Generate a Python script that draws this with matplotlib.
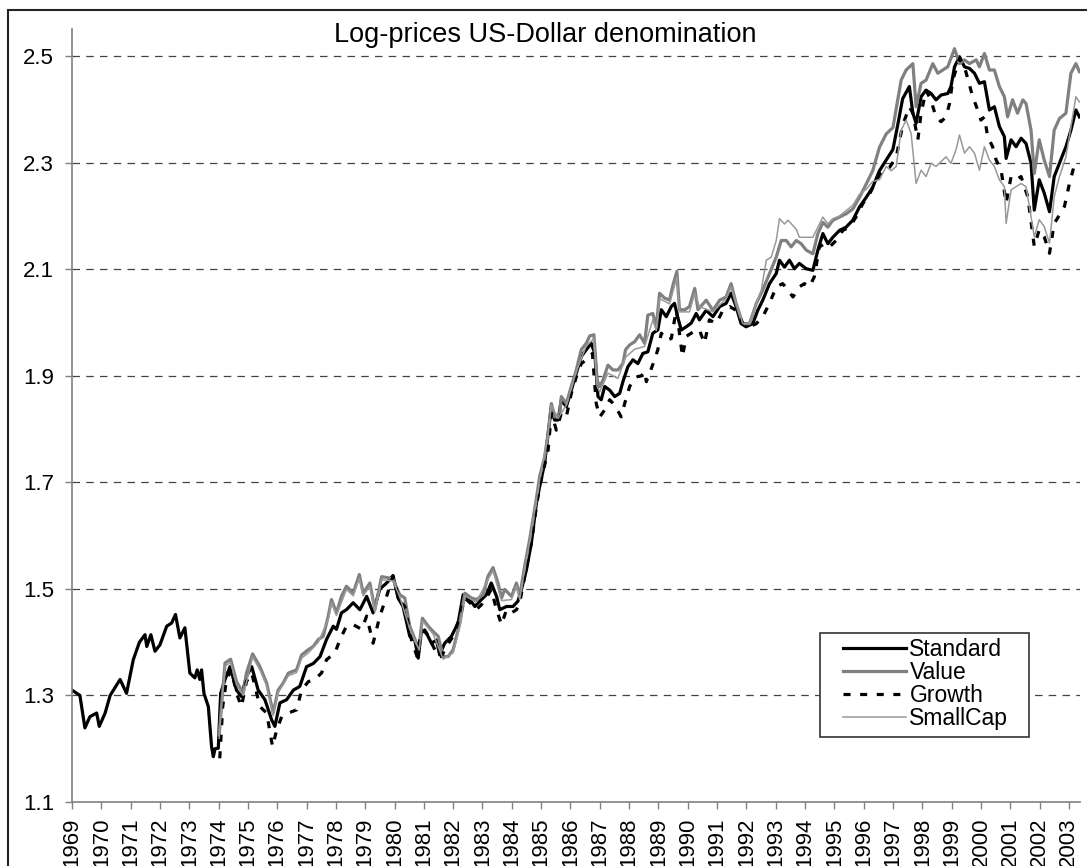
import matplotlib
matplotlib.use("Agg")
import matplotlib.pyplot as plt
from matplotlib.patches import Rectangle

plt.rcParams['font.family'] = ['Liberation Sans', 'DejaVu Sans']

# values (x = position on the year axis, y = log-price)
standard_t = [1969.0, 1969.27, 1969.44, 1969.61, 1969.84, 1969.93, 1970.13, 1970.3, 1970.64, 1970.86,
              1971.09, 1971.3, 1971.49, 1971.55, 1971.69, 1971.83, 1972.0, 1972.23, 1972.4, 1972.53,
              1972.68, 1972.85, 1973.02, 1973.19, 1973.27, 1973.36, 1973.42, 1973.5, 1973.65, 1973.76,
              1973.82, 1973.88, 1973.99, 1974.07, 1974.22, 1974.39, 1974.61, 1974.78, 1974.95, 1975.13,
              1975.35, 1975.58, 1975.81, 1975.92, 1976.09, 1976.32, 1976.55, 1976.77, 1977.0, 1977.23,
              1977.46, 1977.68, 1977.91, 1978.02, 1978.19, 1978.36, 1978.59, 1978.82, 1979.05, 1979.27,
              1979.5, 1979.73, 1979.95, 1980.12, 1980.29, 1980.52, 1980.69, 1980.81, 1980.92, 1981.09,
              1981.26, 1981.43, 1981.54, 1981.71, 1981.94, 1982.17, 1982.34, 1982.57, 1982.74, 1982.91,
              1983.13, 1983.3, 1983.48, 1983.59, 1983.82, 1984.04, 1984.21, 1984.33, 1984.5, 1984.67,
              1984.84, 1984.95, 1985.12, 1985.24, 1985.35, 1985.46, 1985.58, 1985.69, 1985.86, 1986.03,
              1986.2, 1986.37, 1986.54, 1986.71, 1986.83, 1986.94, 1987.05, 1987.17, 1987.34, 1987.51,
              1987.68, 1987.79, 1987.96, 1988.13, 1988.3, 1988.47, 1988.64, 1988.81, 1988.98, 1989.1,
              1989.27, 1989.44, 1989.55, 1989.67, 1989.78, 1989.95, 1990.12, 1990.29, 1990.4, 1990.63,
              1990.86, 1991.09, 1991.31, 1991.48, 1991.65, 1991.82, 1991.99, 1992.22, 1992.39, 1992.56,
              1992.79, 1993.02, 1993.13, 1993.3, 1993.47, 1993.64, 1993.81, 1994.04, 1994.27, 1994.44,
              1994.61, 1994.78, 1994.95, 1995.18, 1995.4, 1995.63, 1995.86, 1996.09, 1996.31, 1996.54,
              1996.77, 1997.0, 1997.16, 1997.33, 1997.56, 1997.68, 1997.79, 1997.96, 1998.13, 1998.3,
              1998.47, 1998.64, 1998.87, 1998.98, 1999.1, 1999.27, 1999.44, 1999.61, 1999.78, 1999.95,
              2000.12, 2000.29, 2000.46, 2000.63, 2000.8, 2000.86, 2001.03, 2001.2, 2001.37, 2001.54,
              2001.71, 2001.82, 2001.99, 2002.16, 2002.34, 2002.5, 2002.68, 2002.9, 2003.07, 2003.24,
              2003.36]
standard_v = [1.31, 1.30, 1.239, 1.26, 1.267, 1.242, 1.267, 1.30, 1.33, 1.304,
              1.367, 1.40, 1.414, 1.392, 1.414, 1.383, 1.395, 1.43, 1.436, 1.452,
              1.408, 1.427, 1.342, 1.333, 1.348, 1.33, 1.348, 1.304, 1.279, 1.204,
              1.185, 1.20, 1.201, 1.304, 1.33, 1.354, 1.31, 1.298, 1.336, 1.354,
              1.31, 1.292, 1.254, 1.242, 1.286, 1.292, 1.31, 1.317, 1.354, 1.36,
              1.373, 1.405, 1.43, 1.424, 1.455, 1.461, 1.474, 1.461, 1.486, 1.455,
              1.50, 1.511, 1.525, 1.483, 1.467, 1.411, 1.404, 1.37, 1.423, 1.417,
              1.398, 1.404, 1.376, 1.398, 1.411, 1.436, 1.489, 1.48, 1.467, 1.477,
              1.489, 1.511, 1.486, 1.461, 1.467, 1.467, 1.477, 1.499, 1.536, 1.587,
              1.661, 1.692, 1.736, 1.792, 1.842, 1.817, 1.817, 1.855, 1.842, 1.873,
              1.905, 1.936, 1.949, 1.961, 1.942, 1.861, 1.855, 1.88, 1.873, 1.861,
              1.867, 1.889, 1.917, 1.93, 1.923, 1.942, 1.945, 1.98, 1.986, 2.024,
              2.011, 2.03, 2.036, 2.008, 1.986, 1.992, 1.999, 2.017, 2.005, 2.023,
              2.011, 2.03, 2.036, 2.055, 2.03, 1.998, 1.992, 1.998, 2.023, 2.042,
              2.073, 2.092, 2.117, 2.104, 2.117, 2.101, 2.111, 2.101, 2.098, 2.136,
              2.167, 2.148, 2.16, 2.173, 2.179, 2.192, 2.217, 2.235, 2.254, 2.285,
              2.305, 2.325, 2.37, 2.42, 2.443, 2.393, 2.374, 2.424, 2.436, 2.43,
              2.418, 2.427, 2.43, 2.443, 2.48, 2.499, 2.48, 2.477, 2.468, 2.449,
              2.452, 2.399, 2.405, 2.368, 2.349, 2.308, 2.343, 2.33, 2.346, 2.336,
              2.299, 2.211, 2.268, 2.243, 2.208, 2.274, 2.299, 2.33, 2.361, 2.399,
              2.386]

value_t = [1974.02, 1974.22, 1974.41, 1974.61, 1974.84, 1974.95, 1975.16, 1975.41, 1975.64, 1975.86,
           1976.03, 1976.2, 1976.38, 1976.66, 1976.83, 1977.06, 1977.23, 1977.4, 1977.57, 1977.74,
           1977.85, 1978.02, 1978.19, 1978.36, 1978.59, 1978.8, 1978.93, 1979.16, 1979.33, 1979.56,
           1979.78, 1979.95, 1980.18, 1980.35, 1980.52, 1980.75, 1980.84, 1980.95, 1981.15, 1981.32,
           1981.49, 1981.66, 1981.83, 1982.0, 1982.23, 1982.4, 1982.62, 1982.79, 1983.02, 1983.19,
           1983.36, 1983.53, 1983.65, 1983.76, 1983.99, 1984.16, 1984.27, 1984.44, 1984.61, 1984.84,
           1984.95, 1985.12, 1985.24, 1985.35, 1985.46, 1985.63, 1985.69, 1985.86, 1986.03, 1986.2,
           1986.37, 1986.54, 1986.66, 1986.8, 1986.91, 1987.0, 1987.11, 1987.28, 1987.45, 1987.62,
           1987.79, 1987.88, 1988.02, 1988.19, 1988.36, 1988.53, 1988.64, 1988.81, 1988.93, 1989.04,
           1989.21, 1989.38, 1989.5, 1989.63, 1989.72, 1989.9, 1990.06, 1990.24, 1990.35, 1990.63,
           1990.86, 1991.09, 1991.31, 1991.48, 1991.65, 1991.88, 1992.11, 1992.34, 1992.56, 1992.79,
           1993.02, 1993.19, 1993.36, 1993.53, 1993.7, 1993.87, 1994.04, 1994.27, 1994.44, 1994.61,
           1994.78, 1994.95, 1995.18, 1995.4, 1995.63, 1995.86, 1996.09, 1996.31, 1996.54, 1996.77,
           1997.0, 1997.28, 1997.45, 1997.68, 1997.79, 1997.96, 1998.13, 1998.36, 1998.53, 1998.7,
           1998.87, 1999.1, 1999.27, 1999.44, 1999.61, 1999.84, 1999.95, 2000.12, 2000.29, 2000.46,
           2000.63, 2000.8, 2000.91, 2001.08, 2001.25, 2001.43, 2001.54, 2001.71, 2001.82, 2001.99,
           2002.16, 2002.34, 2002.5, 2002.68, 2002.9, 2003.07, 2003.24, 2003.36]
value_v = [1.226, 1.361, 1.368, 1.326, 1.304, 1.342, 1.378, 1.354, 1.323, 1.267,
           1.31, 1.323, 1.342, 1.348, 1.376, 1.386, 1.392, 1.405, 1.411, 1.449,
           1.48, 1.455, 1.486, 1.505, 1.492, 1.527, 1.492, 1.511, 1.461, 1.523,
           1.521, 1.518, 1.489, 1.483, 1.43, 1.398, 1.392, 1.445, 1.43, 1.42,
           1.411, 1.373, 1.373, 1.386, 1.436, 1.492, 1.483, 1.48, 1.489, 1.524,
           1.54, 1.511, 1.483, 1.499, 1.486, 1.511, 1.486, 1.543, 1.593, 1.67,
           1.711, 1.748, 1.792, 1.848, 1.823, 1.829, 1.861, 1.848, 1.88, 1.911,
           1.949, 1.961, 1.975, 1.977, 1.892, 1.88, 1.892, 1.92, 1.911, 1.911,
           1.923, 1.949, 1.958, 1.964, 1.977, 1.961, 2.014, 2.017, 1.992, 2.055,
           2.046, 2.042, 2.071, 2.096, 2.024, 2.024, 2.03, 2.064, 2.024, 2.042,
           2.023, 2.042, 2.048, 2.073, 2.036, 1.998, 1.998, 2.036, 2.061, 2.092,
           2.123, 2.154, 2.154, 2.142, 2.154, 2.148, 2.136, 2.129, 2.167, 2.188,
           2.179, 2.192, 2.198, 2.204, 2.213, 2.235, 2.26, 2.285, 2.329, 2.354,
           2.366, 2.455, 2.474, 2.486, 2.405, 2.449, 2.455, 2.486, 2.468, 2.474,
           2.48, 2.514, 2.486, 2.493, 2.486, 2.493, 2.48, 2.505, 2.474, 2.474,
           2.443, 2.424, 2.386, 2.418, 2.393, 2.418, 2.411, 2.361, 2.28, 2.343,
           2.305, 2.274, 2.361, 2.383, 2.393, 2.468, 2.486, 2.471]

growth_t = [1974.04, 1974.14, 1974.27, 1974.44, 1974.61, 1974.78, 1974.95, 1975.13, 1975.41, 1975.64,
            1975.84, 1975.98, 1976.15, 1976.38, 1976.66, 1976.83, 1977.06, 1977.28, 1977.51, 1977.68,
            1977.97, 1978.14, 1978.36, 1978.59, 1978.88, 1979.05, 1979.27, 1979.5, 1979.73, 1979.95,
            1980.18, 1980.35, 1980.58, 1980.77, 1980.86, 1981.03, 1981.15, 1981.32, 1981.49, 1981.6,
            1981.77, 1982.0, 1982.23, 1982.4, 1982.57, 1982.79, 1982.96, 1983.13, 1983.3, 1983.48,
            1983.65, 1983.82, 1983.99, 1984.16, 1984.27, 1984.44, 1984.67, 1984.84, 1984.95, 1985.24,
            1985.35, 1985.52, 1985.69, 1985.86, 1986.03, 1986.2, 1986.37, 1986.54, 1986.75, 1986.88,
            1987.0, 1987.17, 1987.34, 1987.51, 1987.73, 1987.85, 1988.02, 1988.25, 1988.42, 1988.53,
            1988.59, 1988.87, 1988.98, 1989.1, 1989.27, 1989.44, 1989.61, 1989.72, 1989.82, 1989.95,
            1990.12, 1990.29, 1990.4, 1990.57, 1990.74, 1990.97, 1991.2, 1991.43, 1991.65, 1991.88,
            1992.11, 1992.34, 1992.56, 1992.79, 1993.02, 1993.24, 1993.42, 1993.59, 1993.81, 1993.98,
            1994.15, 1994.32, 1994.49, 1994.67, 1994.84, 1995.06, 1995.29, 1995.52, 1995.74, 1995.97,
            1996.2, 1996.43, 1996.65, 1996.88, 1997.11, 1997.33, 1997.56, 1997.68, 1997.85, 1997.96,
            1998.13, 1998.29, 1998.47, 1998.64, 1998.81, 1998.93, 1999.04, 1999.27, 1999.44, 1999.55,
            1999.72, 1999.89, 2000.0, 2000.12, 2000.23, 2000.4, 2000.52, 2000.69, 2000.86, 2001.03,
            2001.2, 2001.37, 2001.6, 2001.82, 2001.99, 2002.16, 2002.34, 2002.5, 2002.68, 2002.85,
            2003.02, 2003.19, 2003.36]
growth_v = [1.182, 1.279, 1.33, 1.348, 1.304, 1.279, 1.326, 1.342, 1.279, 1.267,
            1.204, 1.235, 1.26, 1.267, 1.273, 1.31, 1.326, 1.33, 1.342, 1.367,
            1.38, 1.405, 1.43, 1.433, 1.424, 1.449, 1.398, 1.449, 1.486, 1.524,
            1.477, 1.467, 1.404, 1.373, 1.404, 1.423, 1.411, 1.392, 1.373, 1.373,
            1.392, 1.411, 1.448, 1.483, 1.474, 1.461, 1.47, 1.483, 1.499, 1.461,
            1.433, 1.461, 1.455, 1.461, 1.474, 1.524, 1.587, 1.655, 1.692, 1.761,
            1.83, 1.798, 1.83, 1.823, 1.867, 1.898, 1.923, 1.93, 1.942, 1.848,
            1.823, 1.836, 1.855, 1.845, 1.823, 1.848, 1.88, 1.898, 1.90, 1.908,
            1.889, 1.93, 1.949, 1.98, 1.967, 1.97, 2.024, 1.98, 1.936, 1.974,
            1.98, 1.986, 1.986, 1.961, 2.005, 1.998, 2.023, 2.03, 2.023, 1.998,
            1.992, 1.998, 2.011, 2.036, 2.067, 2.073, 2.061, 2.048, 2.067, 2.073,
            2.067, 2.086, 2.142, 2.148, 2.142, 2.154, 2.173, 2.179, 2.198, 2.223,
            2.241, 2.266, 2.285, 2.291, 2.31, 2.37, 2.405, 2.393, 2.343, 2.393,
            2.436, 2.418, 2.386, 2.377, 2.386, 2.411, 2.455, 2.496, 2.48, 2.458,
            2.424, 2.399, 2.38, 2.386, 2.349, 2.33, 2.305, 2.286, 2.224, 2.274,
            2.268, 2.274, 2.236, 2.143, 2.174, 2.161, 2.13, 2.186, 2.202, 2.218,
            2.261, 2.296, 2.299]

smallcap_t = [1974.02, 1974.22, 1974.41, 1974.61, 1974.84, 1975.16, 1975.41, 1975.64, 1975.86, 1976.03,
              1976.38, 1976.66, 1976.83, 1977.06, 1977.4, 1977.74, 1977.85, 1978.02, 1978.36, 1978.59,
              1978.8, 1978.93, 1979.16, 1979.33, 1979.56, 1979.95, 1980.18, 1980.52, 1980.84, 1980.95,
              1981.32, 1981.66, 1982.0, 1982.23, 1982.4, 1982.79, 1983.19, 1983.36, 1983.65, 1983.99,
              1984.16, 1984.27, 1984.44, 1984.61, 1984.95, 1985.24, 1985.35, 1985.58, 1985.86, 1986.2,
              1986.54, 1986.8, 1986.91, 1987.0, 1987.28, 1987.62, 1987.88, 1988.19, 1988.53, 1988.81,
              1988.93, 1989.04, 1989.38, 1989.63, 1989.72, 1990.06, 1990.24, 1990.4, 1990.86, 1991.31,
              1991.48, 1991.88, 1992.11, 1992.34, 1992.51, 1992.68, 1992.85, 1993.02, 1993.13, 1993.3,
              1993.42, 1993.59, 1993.7, 1993.81, 1994.04, 1994.27, 1994.44, 1994.61, 1994.78, 1994.95,
              1995.18, 1995.4, 1995.63, 1995.86, 1996.09, 1996.31, 1996.54, 1996.77, 1996.94, 1997.11,
              1997.28, 1997.45, 1997.62, 1997.79, 1997.96, 1998.13, 1998.3, 1998.47, 1998.64, 1998.81,
              1998.98, 1999.15, 1999.27, 1999.44, 1999.61, 1999.78, 1999.95, 2000.12, 2000.29, 2000.46,
              2000.63, 2000.8, 2000.86, 2001.03, 2001.2, 2001.37, 2001.54, 2001.71, 2001.82, 2001.99,
              2002.16, 2002.34, 2002.5, 2002.68, 2002.9, 2003.07, 2003.24, 2003.36]
smallcap_v = [1.22, 1.355, 1.362, 1.32, 1.30, 1.372, 1.348, 1.318, 1.262, 1.305,
              1.337, 1.343, 1.37, 1.38, 1.40, 1.443, 1.474, 1.45, 1.499, 1.487,
              1.52, 1.487, 1.505, 1.457, 1.517, 1.515, 1.485, 1.425, 1.385, 1.44,
              1.415, 1.368, 1.38, 1.43, 1.487, 1.475, 1.518, 1.534, 1.478, 1.48,
              1.505, 1.48, 1.537, 1.588, 1.705, 1.79, 1.845, 1.82, 1.845, 1.908,
              1.956, 1.97, 1.88, 1.87, 1.905, 1.895, 1.935, 1.95, 1.955, 2.005,
              1.985, 2.045, 2.035, 2.085, 2.02, 2.02, 2.055, 2.03, 2.02, 2.045,
              2.067, 1.998, 1.998, 2.036, 2.061, 2.117, 2.123, 2.154, 2.195, 2.185,
              2.192, 2.182, 2.175, 2.16, 2.16, 2.16, 2.179, 2.198, 2.185, 2.195,
              2.20, 2.21, 2.22, 2.241, 2.25, 2.265, 2.268, 2.293, 2.285, 2.293,
              2.361, 2.38, 2.355, 2.261, 2.286, 2.274, 2.299, 2.293, 2.302, 2.311,
              2.299, 2.324, 2.352, 2.318, 2.33, 2.318, 2.286, 2.33, 2.305, 2.293,
              2.268, 2.255, 2.186, 2.249, 2.255, 2.261, 2.255, 2.199, 2.161, 2.193,
              2.18, 2.149, 2.236, 2.274, 2.311, 2.368, 2.424, 2.414]

years = list(range(1969, 2004))
y_ticks = [1.1, 1.3, 1.5, 1.7, 1.9, 2.1, 2.3, 2.5]

W, H = 1087, 866
fig = plt.figure(figsize=(W / 100, H / 100), dpi=100)
ax = fig.add_axes([72 / W, 1 - 802 / H, (1080 - 72) / W, (802 - 29) / H])

# outer chart border (only top and left edges are visible in the crop)
fig.patches.append(Rectangle((8 / W, -0.05), 1.2, 1 - 10 / H + 0.05, transform=fig.transFigure,
                             fill=False, edgecolor='#222222', linewidth=1.5))

ax.plot(standard_t, standard_v, color='black', lw=2.3, label='Standard')
ax.plot(value_t, value_v, color='#808080', lw=2.3, label='Value')
ax.plot(growth_t, growth_v, color='black', lw=2.3, ls=(0, (2.2, 3.0)), label='Growth')
ax.plot(smallcap_t, smallcap_v, color='#999999', lw=1.1, label='SmallCap')

ax.set_xlim(1969, 2003.38)
ax.set_ylim(1.1, 2.551)
ax.set_yticks(y_ticks)
ax.set_yticklabels(['%.1f' % t for t in y_ticks])
ax.set_xticks(years)
ax.set_xticklabels([str(y) for y in years], rotation=90, va='top')

for t in y_ticks[1:]:
    ax.axhline(t, color='#444444', lw=0.9, ls=(0, (6, 5)), zorder=0)

for s in ['top', 'right']:
    ax.spines[s].set_visible(False)
for s in ['left', 'bottom']:
    ax.spines[s].set_color('#808080')
    ax.spines[s].set_linewidth(1.2)
ax.tick_params(axis='both', direction='out', length=5, width=1, color='#808080', labelsize=16)
ax.tick_params(axis='y', pad=8)
ax.tick_params(axis='x', pad=6)

fig.text(545 / W, 1 - 35 / H, 'Log-prices US-Dollar denomination', ha='center', va='center', fontsize=19.5)

# legend box drawn as its own patch, legend entries placed inside it
ax.add_patch(Rectangle((820 / W, 1 - 737 / H), 209 / W, 104 / H, transform=fig.transFigure,
                       facecolor='white', edgecolor='#333333', linewidth=1.2, zorder=4))
leg = ax.legend(loc='upper left', bbox_to_anchor=(843 / W, 1 - 638 / H), bbox_transform=fig.transFigure,
                fontsize=16.5, handlelength=2.75, handletextpad=0.15, labelspacing=0.0,
                borderpad=0, borderaxespad=0, frameon=False)
leg.set_zorder(5)

fig.savefig('out.png', dpi=100)
